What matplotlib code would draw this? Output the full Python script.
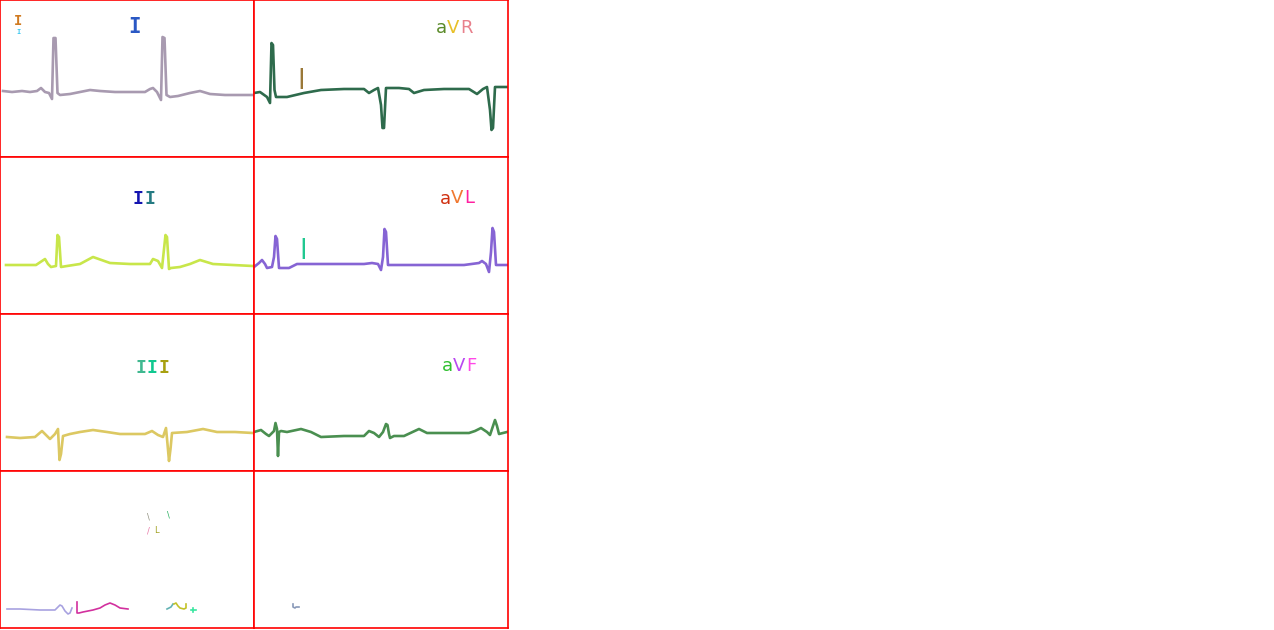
import matplotlib
matplotlib.use("Agg")
import matplotlib.pyplot as plt

# cell size in pixels (x 0..254, y 0..157, y grows downward)
W, H = 254, 157

# ---- traces (x = sample position, y = trace level, both in cell pixels) ----
lead_I_x = [3, 12, 22, 30, 37, 41, 45, 49, 52, 53.5, 55.5, 57.5, 60, 70, 80, 90, 100, 115, 130, 145,
            150, 153, 157, 161, 162.5, 164.5, 166.5, 170, 178, 190, 200, 210, 225, 240, 253]
lead_I_y = [91, 92, 91, 92, 91, 88, 92, 93, 99, 38, 38, 93, 95, 94, 92, 90, 91, 92, 92, 92,
            89, 88, 92, 100, 37, 38, 95, 97, 96, 93, 91, 94, 95, 95, 95]

aVR_x = [0, 6, 13, 16, 17.5, 19, 20.5, 22, 33, 50, 67, 90, 110, 115, 120, 124, 127, 128.5, 130, 132,
         145, 155, 160, 170, 190, 215, 223, 229, 233, 236, 237.5, 239, 241, 253]
aVR_y = [93, 92, 97, 103, 43, 45, 90, 97, 97, 93, 90, 89, 89, 93, 90, 88, 105, 128, 128, 88,
         88, 89, 93, 90, 89, 89, 94, 89, 87, 110, 130, 128, 87, 87]

lead_II_x = [6, 20, 36, 42, 45, 48, 51, 56, 57.5, 59, 61, 67, 80, 93, 110, 130, 150, 153, 158, 162,
             165.5, 167, 169, 171, 180, 190, 200, 213, 233, 253]
lead_II_y = [108, 108, 108, 104, 102, 107, 110, 109, 78, 80, 110, 109, 107, 100, 106, 107, 107, 102, 104, 111,
             78, 80, 112, 111, 110, 107, 103, 107, 108, 109]

aVL_x = [0, 5, 8, 11, 13, 18, 20, 21.5, 23, 25, 35, 43, 53, 70, 90, 110, 118, 124, 127, 129, 130.5,
         132, 134, 150, 180, 210, 225, 228, 232, 235, 237, 238.5, 240, 242, 253]
aVL_y = [110, 106, 103, 107, 111, 110, 100, 79, 82, 111, 111, 107, 107, 107, 107, 107, 106, 107, 113, 100, 72,
         75, 108, 108, 108, 108, 106, 104, 107, 115, 95, 71, 75, 108, 108]

lead_III_x = [7, 20, 35, 42, 46, 50, 55, 58, 59.5, 61, 63, 70, 80, 93, 107, 120, 145, 152, 158, 163,
              166, 167.5, 169, 170.5, 172, 187, 203, 217, 235, 253]
lead_III_y = [123, 124, 123, 117, 121, 125, 120, 115, 146, 140, 122, 120, 118, 116, 118, 120, 120, 117, 121, 123,
              114, 130, 147, 135, 119, 118, 115, 118, 118, 119]

aVF_x = [0, 7, 12, 15, 20, 21.5, 23, 24, 25, 27, 33, 47, 57, 67, 90, 110, 115, 120, 125, 129, 132,
         133.5, 135, 136, 140, 150, 165, 173, 195, 215, 221, 227, 233, 236, 239, 241, 243, 245, 253]
aVF_y = [118, 116, 120, 122, 117, 109, 115, 142, 118, 117, 118, 115, 118, 123, 122, 122, 117, 119, 123, 118, 110,
         111, 120, 124, 122, 122, 115, 119, 119, 119, 117, 114, 118, 121, 112, 106, 112, 120, 118]

# broken pieces in the bottom row
frag_x = [[7, 20, 40, 55, 58, 60, 62, 65, 68, 70, 72],
          [77, 77, 79, 83, 93, 100, 105, 110, 115, 120, 128],
          [167, 171, 173],
          [174, 176, 178, 180, 184, 186, 186],
          [191, 196], [193, 193]]
frag_y = [[138, 138, 139, 139, 136, 134, 135, 140, 143, 142, 137],
          [131, 142, 142, 141, 139, 137, 134, 132, 134, 137, 138],
          [138, 136, 133],
          [133, 132, 135, 137, 138, 137, 133],
          [139, 139], [137, 141]]
frag_colors = ['#a8a2e0', '#d2309e', '#62b2b4', '#c2c228', '#38e6a0', '#38e6a0']

frag2_x = [39, 39, 41, 42, 45]
frag2_y = [133, 136, 137, 136, 136]

fig = plt.figure(figsize=(12.74, 6.30), dpi=100)


def cell(col, row):
    x0, y0 = col * W, row * H
    ax = fig.add_axes([x0 / 1274, 1 - (y0 + H) / 630, W / 1274, H / 630])
    ax.set_xlim(0, W)
    ax.set_ylim(H, 0)
    ax.set_xticks([])
    ax.set_yticks([])
    for s in ax.spines.values():
        s.set_color('red')
        s.set_linewidth(1.2)
    return ax


def letters(ax, items, size, family='DejaVu Sans', weight='normal'):
    # items: (char, x center, baseline y, color)
    for ch, x, y, c in items:
        ax.text(x, y, ch, color=c, fontsize=size, ha='center', va='baseline',
                family=family, fontweight=weight)


lw = 1.9

ax = cell(0, 0)
ax.plot(lead_I_x, lead_I_y, color='#a89ab0', lw=lw)
letters(ax, [('I', 135, 33, '#2a58c4')], 15, 'DejaVu Sans Mono', 'bold')
letters(ax, [('I', 18, 25, '#d07a20')], 10, 'DejaVu Sans Mono', 'bold')
letters(ax, [('I', 19, 34, '#3ec8f0')], 5, 'DejaVu Sans Mono', 'bold')

ax = cell(1, 0)
ax.plot(aVR_x, aVR_y, color='#2e6b4c', lw=lw)
letters(ax, [('a', 187, 33, '#5a8a28'), ('V', 199, 33, '#e8c028'), ('R', 212, 33, '#e8808c')], 13)
ax.text(47, 84, '|', color='#9a7838', fontsize=15, ha='center', va='baseline', fontweight='bold')

ax = cell(0, 1)
ax.plot(lead_II_x, lead_II_y, color='#c8e64a', lw=lw)
letters(ax, [('I', 138, 47, '#1414b0'), ('I', 150, 47, '#247a82')], 13, 'DejaVu Sans Mono', 'bold')

ax = cell(1, 1)
ax.plot(aVL_x, aVL_y, color='#8664d4', lw=lw)
letters(ax, [('a', 191, 47, '#d03010'), ('V', 203, 46, '#f07830'), ('L', 215, 46, '#ff20a0')], 13)
ax.text(49, 97, '|', color='#20c890', fontsize=15, ha='center', va='baseline', fontweight='bold')

ax = cell(0, 2)
ax.plot(lead_III_x, lead_III_y, color='#dcc862', lw=lw)
letters(ax, [('I', 141, 59, '#40b890'), ('I', 152, 59, '#10c890'), ('I', 164, 59, '#a8a010')],
        13, 'DejaVu Sans Mono', 'bold')

ax = cell(1, 2)
ax.plot(aVF_x, aVF_y, color='#4a8f50', lw=lw)
letters(ax, [('a', 193, 57, '#30c030'), ('V', 205, 57, '#b848f0'), ('F', 217, 57, '#ff48e8')], 13)

ax = cell(0, 3)
for fx, fy, c in zip(frag_x, frag_y, frag_colors):
    ax.plot(fx, fy, color=c, lw=1.2)
letters(ax, [('\\', 148, 49, '#909080'), ('/', 148, 63, '#e878a8'), ('L', 156, 62, '#a0a020'),
             ('\\', 168, 46, '#28b060')], 6)

ax = cell(1, 3)
ax.plot(frag2_x, frag2_y, color='#8898b8', lw=1.2)

fig.savefig('out.png', dpi=100)
